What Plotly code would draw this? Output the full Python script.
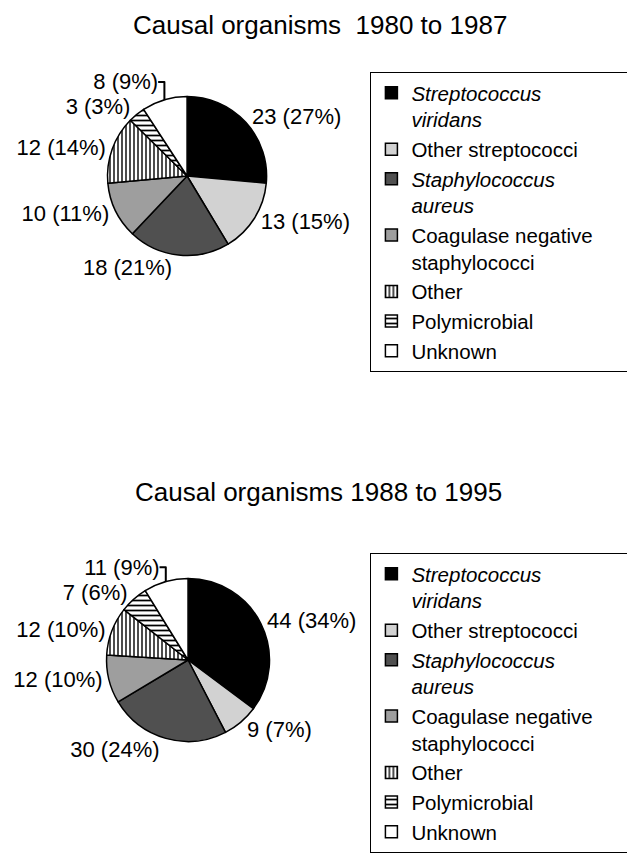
import plotly.graph_objects as go

# ---- data ----
categories = [
    "<i>Streptococcus<br>viridans</i>",
    "Other streptococci",
    "<i>Staphylococcus<br>aureus</i>",
    "Coagulase negative<br>staphylococci",
    "Other",
    "Polymicrobial",
    "Unknown",
]
counts_1980_1987 = [23, 13, 18, 10, 12, 3, 8]
pct_1980_1987 = [27, 15, 21, 11, 14, 3, 9]
counts_1988_1995 = [44, 9, 30, 12, 12, 7, 11]
pct_1988_1995 = [34, 7, 24, 10, 10, 6, 9]
titles = ["Causal organisms  1980 to 1987", "Causal organisms 1988 to 1995"]

# ---- styles ----
fill_colors = ["#000000", "#d2d2d2", "#505050", "#9e9e9e", "#ffffff", "#ffffff", "#ffffff"]
pattern_shapes = ["", "", "", "", "|", "-", ""]
pattern_sizes = [6, 6, 6, 6, 4, 5, 6]
FONT = "Liberation Sans, Arial, Helvetica, sans-serif"

W, H = 635, 853
OFFX, OFFY = 14, 8  # observed page offset of the figure in the browser
PAD = "\u00a0" * 7   # widens the legend box to the reference width


def px_x(x):
    return (x - OFFX) / W


def px_y(y):
    return 1 - (y - OFFY) / H


def pie_domain(cx, cy, r):
    return dict(x=[px_x(cx - r), px_x(cx + r)], y=[px_y(cy + r), px_y(cy - r)])


def legend_label(lbl, suffix):
    if "<br>" in lbl:
        first, rest = lbl.split("<br>", 1)
        return first + PAD + "<br>" + rest + suffix
    return lbl + suffix


fig = go.Figure()

specs = [
    (counts_1980_1987, pct_1980_1987, pie_domain(179, 176, 82), "legend", ""),
    (counts_1988_1995, pct_1988_1995, pie_domain(180, 660, 84), "legend2", "\u200b"),
]

for counts, pcts, dom, leg, suffix in specs:
    fig.add_trace(go.Pie(
        labels=[legend_label(c, suffix) for c in categories],
        values=counts,
        text=[f"{c} ({p}%)" for c, p in zip(counts, pcts)],
        textinfo="text",
        textposition="outside",
        textfont=dict(family=FONT, size=22, color="black"),
        sort=False,
        direction="clockwise",
        rotation=0,
        domain=dom,
        legend=leg,
        marker=dict(
            colors=fill_colors,
            line=dict(color="black", width=1.5),
            pattern=dict(
                shape=pattern_shapes,
                fgcolor="black",
                bgcolor="white",
                size=pattern_sizes,
                solidity=0.35,
            ),
        ),
        hoverinfo="label+value",
    ))

legend_style = dict(
    font=dict(family=FONT, size=20.5, color="black"),
    bordercolor="black",
    borderwidth=1,
    bgcolor="white",
    xanchor="left",
    yanchor="top",
    valign="top",
    tracegroupgap=0,
)

fig.update_layout(
    width=W,
    height=H,
    margin=dict(l=0, r=0, t=0, b=0),
    paper_bgcolor="white",
    plot_bgcolor="white",
    font=dict(family=FONT, color="black"),
    showlegend=True,
    legend=dict(x=px_x(368), y=px_y(72), **legend_style),
    legend2=dict(x=px_x(368), y=px_y(553), **legend_style),
    annotations=[
        dict(text=titles[0], x=px_x(316), y=1, xref="paper", yref="paper",
             showarrow=False, xanchor="center", yanchor="top",
             font=dict(family=FONT, size=26, color="black")),
        dict(text=titles[1], x=px_x(315), y=px_y(492), xref="paper", yref="paper",
             showarrow=False, xanchor="center", yanchor="middle",
             font=dict(family=FONT, size=26, color="black")),
    ],
)

fig.write_html("out.html")
